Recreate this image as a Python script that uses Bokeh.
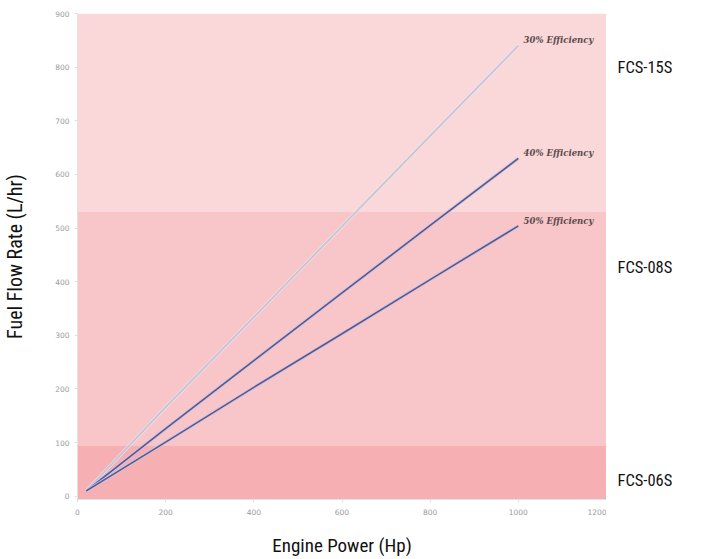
from bokeh.plotting import figure
from bokeh.layouts import row
from bokeh.models import Range1d, Label, FixedTicker
from bokeh.core.properties import value
from bokeh.embed import file_html
from bokeh.resources import INLINE

# ---- data ----
power = [20, 200, 400, 600, 800, 1000]
eff30 = [10, 166, 334, 503, 672, 840]
eff40 = [10, 126, 253, 379, 505, 630]
eff50 = [10, 101, 203, 303, 404, 504]
series_names = ["30% Efficiency", "40% Efficiency", "50% Efficiency"]

band_names = ["FCS-06S", "FCS-08S", "FCS-15S"]
band_low = [-6, 95, 530]
band_high = [95, 530, 900]
band_label_y = [30, 427, 800]

x_ticks = [0, 200, 400, 600, 800, 1000, 1200]
y_ticks = [0, 100, 200, 300, 400, 500, 600, 700, 800, 900]

NARROW = "'Liberation Sans Narrow', 'Roboto Condensed', Roboto, sans-serif"

yr = Range1d(-6, 900)
p = figure(frame_width=529, frame_height=486, output_backend="svg", toolbar_location=None,
           x_range=Range1d(0, 1200), y_range=yr,
           min_border_left=69, min_border_right=0, min_border_top=13, min_border_bottom=56)
p.outline_line_color = None
p.background_fill_color = "white"
p.border_fill_color = "white"

band_colors = ["#f6afb2", "#f8c5c9", "#fad8da"]
p.quad(left=[0, 0, 0], right=[1200] * 3, bottom=band_low, top=band_high,
       fill_color=band_colors, line_color=None)

# lines
p.line(power, eff30, line_color="#ebe8f1", line_width=3.5, line_alpha=0.7)
p.line(power, eff30, line_color="#c8c4d4", line_width=1.8)
for ys in (eff40, eff50):
    p.line(power, ys, line_color="#cbc6e4", line_width=3.5, line_alpha=0.8)
    p.line(power, ys, line_color="#58588f", line_width=1.6)

for name, ys in zip(series_names, (eff30, eff40, eff50)):
    p.add_layout(Label(x=power[-1] + 12, y=ys[-1] + 10, text=name,
                       text_font="DejaVu Serif", text_font_style="bold italic",
                       text_font_size="8.5px", text_color="#5a4a4a",
                       text_baseline="middle"))

p.xgrid.ticker = FixedTicker(ticks=x_ticks)
p.ygrid.ticker = FixedTicker(ticks=y_ticks)
p.xgrid.grid_line_color = "white"
p.xgrid.grid_line_alpha = 0.4
p.ygrid.grid_line_color = "white"
p.ygrid.grid_line_alpha = 0.15

# axes
p.xaxis.ticker = FixedTicker(ticks=x_ticks)
p.yaxis.ticker = FixedTicker(ticks=y_ticks)
for ax in (p.xaxis[0], p.yaxis[0]):
    ax.axis_line_color = "#e2e2e2"
    ax.major_tick_line_color = "#e2e2e2"
    ax.major_tick_out = 3
    ax.major_tick_in = 0
    ax.minor_tick_line_color = None
    ax.major_label_text_font = "DejaVu Sans"
    ax.major_label_text_font_size = "7.5px"
    ax.major_label_text_color = "#9a9a9a"
    ax.axis_label_text_font = NARROW
    ax.axis_label_text_font_style = "normal"
    ax.axis_label_text_color = "#111111"

p.xaxis.axis_label = "Engine Power (Hp)"
p.yaxis.axis_label = "Fuel Flow Rate (L/hr)"
p.xaxis.axis_label_text_font_size = "19px"
p.yaxis.axis_label_text_font_size = "20px"
p.xaxis.major_label_standoff = 6
p.yaxis.major_label_standoff = 5
p.xaxis.axis_label_standoff = 16
p.yaxis.axis_label_standoff = 25

# right-hand panel with the model names, sharing the y scale
p2 = figure(frame_width=85, frame_height=486, output_backend="svg", toolbar_location=None,
            x_range=Range1d(0, 1), y_range=yr,
            min_border_left=0, min_border_right=0, min_border_top=13, min_border_bottom=56)
p2.axis.visible = False
p2.grid.grid_line_color = None
p2.outline_line_color = None
p2.text(x=[0] * 3, y=band_label_y, text=band_names, x_offset=11,
        text_font=value(NARROW), text_font_size="16.5px", text_color="#111111",
        text_baseline="middle")

layout = row(p, p2, spacing=0)
open("out.html", "w").write(file_html(layout, INLINE))
